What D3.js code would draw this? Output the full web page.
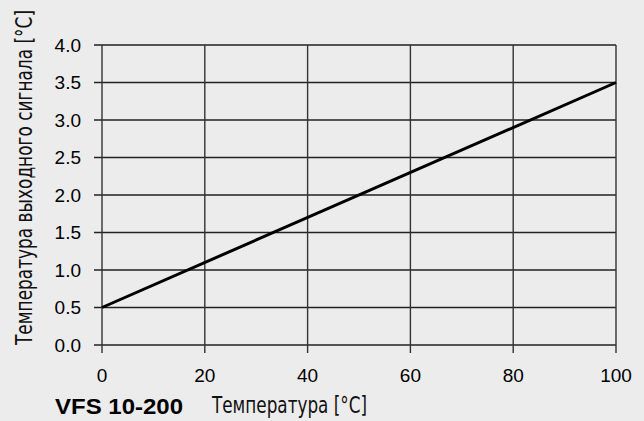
<!DOCTYPE html>
<html>
<head>
<meta charset="utf-8">
<script src="https://cdn.jsdelivr.net/npm/d3@7"></script>
<style>
  body { margin: 0; background: #ececec; }
  .tick-label { font-family: "Liberation Sans", Arial, sans-serif; font-size: 19px; fill: #000; }
  .axis-title { font-family: "Liberation Sans Narrow", "DejaVu Sans Condensed", "Roboto", sans-serif; font-size: 23px; fill: #111; }
  .model { font-family: "Liberation Sans", Arial, sans-serif; font-size: 22px; font-weight: bold; fill: #000; }
</style>
</head>
<body>
<div id="wrapper"></div>
<script>
// data
const xTicks = [0, 20, 40, 60, 80, 100]
const yTicks = [0.0, 0.5, 1.0, 1.5, 2.0, 2.5, 3.0, 3.5, 4.0]
const sensorTemp = [0, 100]
const outputTemp = [0.5, 3.5]
const xTitle = "Температура [°C]"
const yTitle = "Температура выходного сигнала [°C]"
const modelName = "VFS 10-200"

const dimensions = {
  width: 644,
  height: 421,
  margin: { top: 45, right: 28, bottom: 76, left: 102 },
}
dimensions.boundedWidth = dimensions.width - dimensions.margin.left - dimensions.margin.right
dimensions.boundedHeight = dimensions.height - dimensions.margin.top - dimensions.margin.bottom

const svg = d3.select("#wrapper").append("svg")
  .attr("width", dimensions.width)
  .attr("height", dimensions.height)

const bounds = svg.append("g")
  .attr("transform", `translate(${dimensions.margin.left}, ${dimensions.margin.top})`)

const xScale = d3.scaleLinear().domain([0, 100]).range([0, dimensions.boundedWidth])
const yScale = d3.scaleLinear().domain([0, 4]).range([dimensions.boundedHeight, 0])

// grid lines, extended as ticks past the frame
bounds.selectAll(".hgrid")
  .data(yTicks)
  .join("line")
    .attr("x1", -8)
    .attr("x2", dimensions.boundedWidth)
    .attr("y1", d => yScale(d))
    .attr("y2", d => yScale(d))
    .attr("stroke", "#222")
    .attr("stroke-width", 1.4)

bounds.selectAll(".vgrid")
  .data(xTicks)
  .join("line")
    .attr("x1", d => xScale(d))
    .attr("x2", d => xScale(d))
    .attr("y1", 0)
    .attr("y2", dimensions.boundedHeight + 8)
    .attr("stroke", "#333")
    .attr("stroke-width", 1.4)

// tick labels
bounds.selectAll(".ylabel")
  .data(yTicks)
  .join("text")
    .attr("class", "tick-label")
    .attr("x", -21)
    .attr("y", d => yScale(d))
    .attr("dy", "0.36em")
    .attr("text-anchor", "end")
    .text(d3.format(".1f"))

bounds.selectAll(".xlabel")
  .data(xTicks)
  .join("text")
    .attr("class", "tick-label")
    .attr("x", d => xScale(d))
    .attr("y", dimensions.boundedHeight + 37)
    .attr("text-anchor", "middle")
    .text(d => d)

// the line
const lineData = sensorTemp.map((d, i) => [d, outputTemp[i]])
bounds.append("path")
  .datum(lineData)
  .attr("fill", "none")
  .attr("stroke", "#000")
  .attr("stroke-width", 3)
  .attr("d", d3.line().x(d => xScale(d[0])).y(d => yScale(d[1])))

// titles
svg.append("text")
  .attr("class", "model")
  .attr("x", 55)
  .attr("y", 414)
  .attr("textLength", 128)
  .attr("lengthAdjust", "spacingAndGlyphs")
  .text(modelName)

svg.append("text")
  .attr("class", "axis-title")
  .attr("x", 212)
  .attr("y", 413)
  .attr("textLength", 155)
  .attr("lengthAdjust", "spacingAndGlyphs")
  .text(xTitle)

svg.append("text")
  .attr("class", "axis-title")
  .attr("transform", `translate(32, 345) rotate(-90)`)
  .attr("textLength", 335)
  .attr("lengthAdjust", "spacingAndGlyphs")
  .text(yTitle)
</script>
</body>
</html>
